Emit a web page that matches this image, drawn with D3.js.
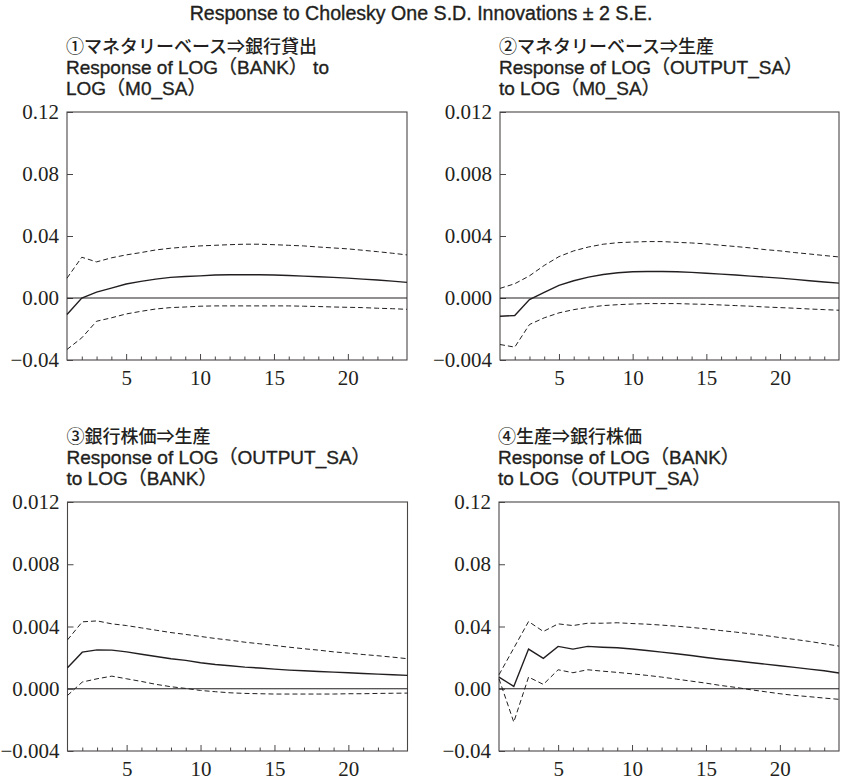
<!DOCTYPE html>
<html>
<head>
<meta charset="utf-8">
<script src="https://cdn.jsdelivr.net/npm/d3@7"></script>
<style>
  html, body { margin: 0; padding: 0; background: #fff; }
  svg { display: block; }
</style>
</head>
<body>
<svg id="chart" width="841" height="780"></svg>
<script>
// Impulse responses over periods 1..24 (response, +2 S.E., -2 S.E.)
const periods = d3.range(1, 25);

const p1Resp = [-0.0107, 0.0000, 0.0038, 0.0064, 0.0090, 0.0107, 0.0122, 0.0133, 0.0139, 0.0143, 0.0148, 0.0150,
                0.0150, 0.0150, 0.0148, 0.0145, 0.0141, 0.0137, 0.0133, 0.0128, 0.0122, 0.0116, 0.0109, 0.0101];
const p1Upper = [0.0128, 0.0263, 0.0233, 0.0259, 0.0278, 0.0293, 0.0310, 0.0321, 0.0329, 0.0336, 0.0340, 0.0344,
                 0.0347, 0.0347, 0.0344, 0.0340, 0.0336, 0.0329, 0.0323, 0.0317, 0.0308, 0.0299, 0.0289, 0.0278];
const p1Lower = [-0.0332, -0.0257, -0.0150, -0.0128, -0.0103, -0.0086, -0.0071, -0.0062, -0.0058, -0.0053, -0.0051, -0.0051,
                 -0.0051, -0.0051, -0.0051, -0.0051, -0.0053, -0.0055, -0.0058, -0.0060, -0.0062, -0.0066, -0.0069, -0.0073];

const p2Resp = [-0.00118, -0.00113, -0.00010, 0.00036, 0.00081, 0.00111, 0.00135, 0.00152, 0.00163, 0.00169, 0.00171, 0.00171,
                0.00169, 0.00165, 0.00160, 0.00154, 0.00148, 0.00141, 0.00135, 0.00128, 0.00120, 0.00111, 0.00103, 0.00096];
const p2Upper = [0.00062, 0.00092, 0.00143, 0.00210, 0.00267, 0.00304, 0.00329, 0.00347, 0.00357, 0.00361, 0.00364, 0.00364,
                 0.00359, 0.00355, 0.00349, 0.00340, 0.00332, 0.00323, 0.00312, 0.00304, 0.00293, 0.00284, 0.00274, 0.00265];
const p2Lower = [-0.00300, -0.00317, -0.00171, -0.00128, -0.00096, -0.00075, -0.00060, -0.00049, -0.00043, -0.00039, -0.00036, -0.00036,
                 -0.00036, -0.00039, -0.00041, -0.00045, -0.00049, -0.00053, -0.00058, -0.00062, -0.00066, -0.00071, -0.00075, -0.00079];

const p3Resp = [0.00135, 0.00235, 0.00250, 0.00248, 0.00237, 0.00222, 0.00207, 0.00193, 0.00182, 0.00167, 0.00156, 0.00148,
                0.00139, 0.00133, 0.00126, 0.00120, 0.00116, 0.00111, 0.00107, 0.00103, 0.00098, 0.00094, 0.00090, 0.00086];
const p3Upper = [0.00314, 0.00430, 0.00436, 0.00417, 0.00406, 0.00391, 0.00376, 0.00361, 0.00349, 0.00336, 0.00323, 0.00312,
                 0.00299, 0.00289, 0.00278, 0.00267, 0.00257, 0.00248, 0.00237, 0.00229, 0.00220, 0.00212, 0.00203, 0.00193];
const p3Lower = [-0.00043, 0.00043, 0.00064, 0.00081, 0.00064, 0.00047, 0.00028, 0.00013, 0.00002, -0.00011, -0.00019, -0.00026,
                 -0.00030, -0.00032, -0.00034, -0.00034, -0.00034, -0.00034, -0.00034, -0.00032, -0.00032, -0.00030, -0.00029, -0.00028];

const p4Resp = [0.0075, 0.0015, 0.0255, 0.0195, 0.0272, 0.0255, 0.0272, 0.0267, 0.0263, 0.0255, 0.0246, 0.0235,
                0.0225, 0.0214, 0.0201, 0.0190, 0.0180, 0.0169, 0.0158, 0.0148, 0.0137, 0.0126, 0.0116, 0.0101];
const p4Upper = [0.0090, 0.0261, 0.0432, 0.0368, 0.0417, 0.0406, 0.0421, 0.0421, 0.0424, 0.0419, 0.0415, 0.0409,
                 0.0402, 0.0394, 0.0385, 0.0374, 0.0364, 0.0353, 0.0342, 0.0329, 0.0317, 0.0304, 0.0289, 0.0274];
const p4Lower = [0.0064, -0.0214, 0.0075, 0.0028, 0.0122, 0.0103, 0.0122, 0.0113, 0.0105, 0.0096, 0.0086, 0.0075,
                 0.0062, 0.0049, 0.0036, 0.0021, 0.0009, -0.0006, -0.0019, -0.0032, -0.0043, -0.0051, -0.0060, -0.0068];

// Axis tick labels
const xTickLabels = [5, 10, 15, 20];
const yTicksWide = ["-0.04", "0.00", "0.04", "0.08", "0.12"];
const yTicksNarrow = ["-0.004", "0.000", "0.004", "0.008", "0.012"];

// Titles
const mainTitle = "Response to Cholesky One S.D. Innovations \u00B1 2 S.E.";
const titles1 = ["\u2460マネタリーベース\u21D2銀行貸出", "Response of LOG\uFF08BANK\uFF09 to", "LOG\uFF08M0_SA\uFF09"];
const titles2 = ["\u2461マネタリーベース\u21D2生産", "Response of LOG\uFF08OUTPUT_SA\uFF09", "to LOG\uFF08M0_SA\uFF09"];
const titles3 = ["\u2462銀行株価\u21D2生産", "Response of LOG\uFF08OUTPUT_SA\uFF09", "to LOG\uFF08BANK\uFF09"];
const titles4 = ["\u2463生産\u21D2銀行株価", "Response of LOG\uFF08BANK\uFF09", "to LOG\uFF08OUTPUT_SA\uFF09"];

const panels = [
  { box: [67, 112, 407, 360], ticks: yTicksWide, resp: p1Resp, upper: p1Upper, lower: p1Lower, titles: titles1 },
  { box: [500, 112, 839, 360], ticks: yTicksNarrow, resp: p2Resp, upper: p2Upper, lower: p2Lower, titles: titles2 },
  { box: [67.5, 502, 407.5, 751], ticks: yTicksNarrow, resp: p3Resp, upper: p3Upper, lower: p3Lower, titles: titles3 },
  { box: [499, 502, 839, 751], ticks: yTicksWide, resp: p4Resp, upper: p4Upper, lower: p4Lower, titles: titles4 }
];

const svg = d3.select("#chart");
const cjkFont = "'Noto Sans CJK JP', sans-serif";
const latinFont = "'Liberation Sans', 'Noto Sans CJK JP', sans-serif";
const serifFont = "'Liberation Serif', 'DejaVu Serif', serif";
const ink = "#231f20";
const frame = "#4a4646";
const titleOffsets = [-67.5, -44.5, -24];

// Medium-weight gothic look for headings: regular face with a hairline outline
function heading(sel) {
  return sel.attr("fill", ink).attr("stroke", ink).attr("stroke-width", 0.35);
}

heading(svg.append("text")
  .attr("x", 421).attr("y", 13)
  .attr("text-anchor", "middle").attr("dominant-baseline", "central")
  .attr("font-family", latinFont).attr("font-size", 19.6)
  .text(mainTitle));

panels.forEach(p => {
  const [x0, y0, x1, y1] = p.box;
  const tickVals = p.ticks.map(Number);
  const x = d3.scaleLinear().domain([1, 24]).range([x0, x1]);
  const y = d3.scaleLinear().domain([tickVals[0], tickVals[tickVals.length - 1]]).range([y1, y0]);
  const g = svg.append("g");

  // Title block above the panel: Japanese heading, then the English description
  p.titles.forEach((t, i) => {
    const txt = g.append("text")
      .attr("x", x0 - 1).attr("y", y0 + titleOffsets[i])
      .attr("dominant-baseline", "central")
      .attr("font-family", i === 0 ? cjkFont : latinFont)
      .attr("font-size", i === 0 ? 18 : 19)
      .text(t);
    if (i === 0) txt.attr("font-weight", 500).attr("fill", ink);
    else heading(txt);
  });

  // Y axis: inward ticks, serif labels
  const yAxis = d3.axisLeft(y)
    .tickValues(tickVals)
    .tickSize(-6)
    .tickPadding(8)
    .tickFormat((d, i) => p.ticks[i].replace("-", "\u2212"));
  const ya = g.append("g").attr("transform", `translate(${x0},0)`).call(yAxis)
    .attr("font-family", serifFont).attr("font-size", 21);
  ya.select(".domain").remove();
  ya.selectAll("line").attr("stroke", frame);
  ya.selectAll("text").attr("fill", ink);

  // X axis: minor ticks every period, longer ticks at labelled periods
  const xAxisMinor = d3.axisBottom(x)
    .tickValues(periods.slice(1, 23).filter(v => !xTickLabels.includes(v)))
    .tickSize(-3.5).tickFormat("");
  const xm = g.append("g").attr("transform", `translate(0,${y1})`).call(xAxisMinor);
  xm.select(".domain").remove();
  xm.selectAll("line").attr("stroke", frame);

  const xAxisMajor = d3.axisBottom(x)
    .tickValues(xTickLabels)
    .tickSize(-6).tickPadding(10);
  const xM = g.append("g").attr("transform", `translate(0,${y1})`).call(xAxisMajor)
    .attr("font-family", serifFont).attr("font-size", 21);
  xM.select(".domain").remove();
  xM.selectAll("line").attr("stroke", frame);
  xM.selectAll("text").attr("fill", ink);

  // Frame
  g.append("rect")
    .attr("x", x0).attr("y", y0).attr("width", x1 - x0).attr("height", y1 - y0)
    .attr("fill", "none").attr("stroke", frame).attr("stroke-width", 1.1);

  // Zero line
  g.append("line")
    .attr("x1", x0).attr("x2", x1).attr("y1", y(0)).attr("y2", y(0))
    .attr("stroke", ink).attr("stroke-width", 1);

  const line = d3.line().x((d, i) => x(periods[i])).y(d => y(d));

  g.append("path").datum(p.upper).attr("d", line)
    .attr("fill", "none").attr("stroke", ink).attr("stroke-width", 1)
    .attr("stroke-dasharray", "5,3");
  g.append("path").datum(p.lower).attr("d", line)
    .attr("fill", "none").attr("stroke", ink).attr("stroke-width", 1)
    .attr("stroke-dasharray", "5,3");
  g.append("path").datum(p.resp).attr("d", line)
    .attr("fill", "none").attr("stroke", ink).attr("stroke-width", 1.4);
});
</script>
</body>
</html>
